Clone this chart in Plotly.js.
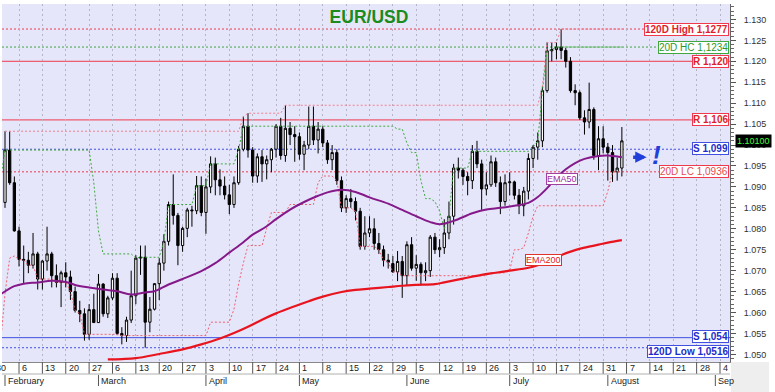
<!DOCTYPE html>
<html><head><meta charset="utf-8">
<script src="https://cdn.plot.ly/plotly-3.0.1.min.js"></script>
<style>html,body{margin:0;padding:0;background:#fff;}#chart{width:775px;height:392px;}</style>
</head><body><div id="chart"></div>
<script>
// ---------- DATA ----------
const preDates = ['2023-01-03','2023-01-04','2023-01-05','2023-01-06','2023-01-09','2023-01-10','2023-01-11','2023-01-12','2023-01-13',
 '2023-01-16','2023-01-17','2023-01-18','2023-01-19','2023-01-20','2023-01-23','2023-01-24','2023-01-25','2023-01-26','2023-01-27',
 '2023-01-30','2023-01-31'];
const preClose = [1.0545,1.0605,1.0520,1.0645,1.0730,1.0735,1.0760,1.0850,1.0830,
 1.0820,1.0790,1.0795,1.0830,1.0855,1.0870,1.0885,1.0915,1.0890,1.0870,1.0845,1.0865];

const dates = [
 '2023-02-01','2023-02-02','2023-02-03',
 '2023-02-06','2023-02-07','2023-02-08','2023-02-09','2023-02-10',
 '2023-02-13','2023-02-14','2023-02-15','2023-02-16','2023-02-17',
 '2023-02-20','2023-02-21','2023-02-22','2023-02-23','2023-02-24',
 '2023-02-27','2023-02-28','2023-03-01','2023-03-02','2023-03-03',
 '2023-03-06','2023-03-07','2023-03-08','2023-03-09','2023-03-10',
 '2023-03-13','2023-03-14','2023-03-15','2023-03-16','2023-03-17',
 '2023-03-20','2023-03-21','2023-03-22','2023-03-23','2023-03-24',
 '2023-03-27','2023-03-28','2023-03-29','2023-03-30','2023-03-31',
 '2023-04-03','2023-04-04','2023-04-05','2023-04-06','2023-04-07',
 '2023-04-10','2023-04-11','2023-04-12','2023-04-13','2023-04-14',
 '2023-04-17','2023-04-18','2023-04-19','2023-04-20','2023-04-21',
 '2023-04-24','2023-04-25','2023-04-26','2023-04-27','2023-04-28',
 '2023-05-01','2023-05-02','2023-05-03','2023-05-04','2023-05-05',
 '2023-05-08','2023-05-09','2023-05-10','2023-05-11','2023-05-12',
 '2023-05-15','2023-05-16','2023-05-17','2023-05-18','2023-05-19',
 '2023-05-22','2023-05-23','2023-05-24','2023-05-25','2023-05-26',
 '2023-05-29','2023-05-30','2023-05-31','2023-06-01','2023-06-02',
 '2023-06-05','2023-06-06','2023-06-07','2023-06-08','2023-06-09',
 '2023-06-12','2023-06-13','2023-06-14','2023-06-15','2023-06-16',
 '2023-06-19','2023-06-20','2023-06-21','2023-06-22','2023-06-23',
 '2023-06-26','2023-06-27','2023-06-28','2023-06-29','2023-06-30',
 '2023-07-03','2023-07-04','2023-07-05','2023-07-06','2023-07-07',
 '2023-07-10','2023-07-11','2023-07-12','2023-07-13','2023-07-14',
 '2023-07-17','2023-07-18','2023-07-19','2023-07-20','2023-07-21',
 '2023-07-24','2023-07-25','2023-07-26','2023-07-27','2023-07-28',
 '2023-07-31','2023-08-01','2023-08-02','2023-08-03','2023-08-04'];

const openP = [
 1.0863,1.0988,1.0910,
 1.0795,1.0727,1.0725,1.0713,1.0740,
 1.0680,1.0723,1.0740,1.0688,1.0672,
 1.0695,1.0685,1.0650,1.0605,1.0597,
 1.0548,1.0607,1.0576,1.0668,1.0597,
 1.0635,1.0682,1.0550,1.0545,1.0582,
 1.0640,1.0730,1.0732,1.0577,1.0608,
 1.0669,1.0718,1.0770,1.0858,1.0832,
 1.0760,1.0801,1.0845,1.0843,1.0903,
 1.0839,1.0900,1.0955,1.0917,1.0902,
 1.0881,1.0858,1.0910,1.0990,1.1045,
 1.0988,1.0926,1.0972,1.0955,1.0965,
 1.0990,1.1045,1.0975,1.1040,1.1025,
 1.1020,1.0978,1.1000,1.1045,1.1012,
 1.1038,1.1005,1.0965,1.0982,1.0915,
 1.0850,1.0872,1.0865,1.0842,1.0758,
 1.0790,1.0800,1.0765,1.0750,1.0725,
 1.0717,1.0697,1.0722,1.0688,1.0762,
 1.0706,1.0715,1.0695,1.0700,1.0780,
 1.0750,1.0755,1.0790,1.0830,1.0945,
 1.0940,1.0925,1.0915,1.0985,1.0955,
 1.0895,1.0905,1.0960,1.0910,1.0865,
 1.0910,1.0912,1.0880,1.0855,1.0890,
 1.0968,1.0995,1.1010,1.1130,1.1225,
 1.1228,1.1234,1.1226,1.1200,1.1130,
 1.1125,1.1065,1.1055,1.1085,1.0975,
 1.1015,1.0995,1.0982,1.0936,1.0945];

const highP = [
 1.1033,1.1033,1.0925,
 1.0805,1.0760,1.0745,1.0790,1.0745,
 1.0725,1.0805,1.0745,1.0715,1.0700,
 1.0720,1.0700,1.0662,1.0628,1.0610,
 1.0620,1.0645,1.0692,1.0670,1.0640,
 1.0694,1.0694,1.0565,1.0590,1.0700,
 1.0737,1.0760,1.0760,1.0637,1.0670,
 1.0730,1.0787,1.0865,1.0930,1.0838,
 1.0805,1.0850,1.0855,1.0926,1.0925,
 1.0920,1.0973,1.0970,1.0942,1.0925,
 1.0905,1.0925,1.0998,1.1068,1.1076,
 1.0995,1.0980,1.0988,1.0975,1.0993,
 1.1050,1.1065,1.1095,1.1055,1.1045,
 1.1030,1.1010,1.1092,1.1092,1.1055,
 1.1045,1.1012,1.1000,1.0990,1.0925,
 1.0880,1.0895,1.0875,1.0850,1.0830,
 1.0830,1.0825,1.0790,1.0760,1.0740,
 1.0735,1.0747,1.0735,1.0770,1.0780,
 1.0737,1.0720,1.0720,1.0785,1.0790,
 1.0775,1.0823,1.0865,1.0955,1.0970,
 1.0945,1.0935,1.1000,1.1010,1.0965,
 1.0935,1.0975,1.0970,1.0925,1.0930,
 1.0935,1.0915,1.0895,1.0900,1.0980,
 1.1000,1.1030,1.1140,1.1245,1.1245,
 1.1245,1.1277,1.1232,1.1210,1.1145,
 1.1130,1.1083,1.1149,1.1090,1.1045,
 1.1045,1.1005,1.1000,1.0970,1.1043];

const lowP = [
 1.0850,1.0905,1.0793,
 1.0710,1.0670,1.0694,1.0705,1.0655,
 1.0655,1.0700,1.0660,1.0660,1.0613,
 1.0660,1.0630,1.0600,1.0577,1.0533,
 1.0535,1.0575,1.0575,1.0590,1.0587,
 1.0630,1.0546,1.0524,1.0530,1.0575,
 1.0620,1.0690,1.0516,1.0553,1.0605,
 1.0630,1.0700,1.0760,1.0810,1.0713,
 1.0745,1.0780,1.0805,1.0835,1.0830,
 1.0788,1.0885,1.0880,1.0880,1.0870,
 1.0835,1.0850,1.0905,1.0985,1.0970,
 1.0910,1.0910,1.0912,1.0918,1.0935,
 1.0970,1.0965,1.0960,1.1000,1.0960,
 1.0965,1.0940,1.0990,1.1000,1.0980,
 1.0995,1.0955,1.0940,1.0905,1.0840,
 1.0838,1.0850,1.0820,1.0750,1.0750,
 1.0780,1.0750,1.0740,1.0710,1.0705,
 1.0695,1.0675,1.0635,1.0665,1.0700,
 1.0676,1.0665,1.0675,1.0685,1.0740,
 1.0732,1.0740,1.0775,1.0810,1.0920,
 1.0905,1.0880,1.0895,1.0945,1.0845,
 1.0880,1.0900,1.0900,1.0835,1.0855,
 1.0880,1.0870,1.0835,1.0830,1.0870,
 1.0945,1.0965,1.0995,1.1125,1.1200,
 1.1205,1.1205,1.1185,1.1125,1.1095,
 1.1060,1.1025,1.1040,1.0965,1.0940,
 1.0980,1.0915,1.0912,1.0915,1.0925];

const closeP = [
 1.0988,1.0910,1.0795,
 1.0727,1.0725,1.0713,1.0740,1.0680,
 1.0723,1.0740,1.0688,1.0672,1.0695,
 1.0685,1.0650,1.0605,1.0597,1.0548,
 1.0607,1.0576,1.0668,1.0597,1.0635,
 1.0682,1.0550,1.0545,1.0582,1.0640,
 1.0730,1.0732,1.0577,1.0608,1.0669,
 1.0718,1.0770,1.0858,1.0832,1.0760,
 1.0801,1.0845,1.0843,1.0903,1.0839,
 1.0900,1.0955,1.0917,1.0902,1.0881,
 1.0858,1.0910,1.0990,1.1045,1.0988,
 1.0926,1.0972,1.0955,1.0965,1.0990,
 1.1045,1.0975,1.1040,1.1025,1.1020,
 1.0978,1.1000,1.1045,1.1012,1.1038,
 1.1005,1.0965,1.0982,1.0915,1.0850,
 1.0872,1.0865,1.0842,1.0758,1.0790,
 1.0800,1.0765,1.0750,1.0725,1.0720,
 1.0697,1.0722,1.0688,1.0762,1.0706,
 1.0715,1.0695,1.0700,1.0780,1.0750,
 1.0755,1.0790,1.0830,1.0945,1.0940,
 1.0925,1.0915,1.0985,1.0955,1.0895,
 1.0905,1.0960,1.0910,1.0865,1.0910,
 1.0912,1.0880,1.0855,1.0890,1.0968,
 1.0995,1.1010,1.1130,1.1225,1.1228,
 1.1234,1.1226,1.1200,1.1130,1.1125,
 1.1065,1.1055,1.1085,1.0975,1.1015,
 1.0995,1.0982,1.0936,1.0945,1.1010];

const ema50Dates = ['2023-01-31','2023-02-03','2023-02-07','2023-02-10','2023-02-15','2023-02-20','2023-02-22','2023-02-27',
 '2023-03-02','2023-03-07','2023-03-10','2023-03-15','2023-03-17','2023-03-22','2023-03-27','2023-03-31','2023-04-05',
 '2023-04-10','2023-04-13','2023-04-17','2023-04-20','2023-04-24','2023-04-27','2023-05-02','2023-05-05','2023-05-09',
 '2023-05-12','2023-05-17','2023-05-22','2023-05-26','2023-05-31','2023-06-05','2023-06-08','2023-06-12','2023-06-15',
 '2023-06-21','2023-06-26','2023-06-29','2023-07-04','2023-07-07','2023-07-11','2023-07-13','2023-07-17','2023-07-19',
 '2023-07-21','2023-07-25','2023-07-28','2023-08-01','2023-08-04'];
const ema50 = [1.0643,1.0663,1.0669,1.0672,1.0676,1.0673,1.0666,1.0660,
 1.0655,1.0651,1.0643,1.0648,1.0651,1.0667,1.0680,1.0699,1.0718,
 1.0743,1.0768,1.0786,1.0806,1.0823,1.0846,1.0864,1.0879,1.0887,
 1.0893,1.0888,1.0875,1.0860,1.0845,1.0830,1.0816,1.0811,1.0819,
 1.0837,1.0846,1.0850,1.0855,1.0862,1.0876,1.0897,1.0922,1.0942,
 1.0957,1.0967,1.0974,1.0975,1.0971];

const ema200Dates = ['2023-03-03','2023-03-08','2023-03-13','2023-03-20','2023-03-27','2023-03-31','2023-04-06','2023-04-11',
 '2023-04-14','2023-04-19','2023-04-24','2023-04-28','2023-05-03','2023-05-08','2023-05-12','2023-05-17','2023-05-22',
 '2023-05-26','2023-05-31','2023-06-05','2023-06-09','2023-06-13','2023-06-19','2023-06-23','2023-06-28','2023-07-03',
 '2023-07-07','2023-07-11','2023-07-14','2023-07-18','2023-07-21','2023-07-25','2023-07-28','2023-08-01','2023-08-04'];
const ema200 = [1.0488,1.0489,1.0491,1.0501,1.0512,1.0524,1.0538,1.0551,
 1.0566,1.0583,1.0598,1.0615,1.0627,1.0638,1.0649,1.0654,1.0657,
 1.0661,1.0664,1.0666,1.0668,1.0672,1.0681,1.0690,1.0695,1.0700,
 1.0707,1.0713,1.0726,1.0737,1.0749,1.0755,1.0762,1.0767,1.0773];

const levelValues = [1.1277, 1.1234, 1.120, 1.106, 1.099, 1.0936, 1.054, 1.0516];
const levelLabels = ['120D High 1,1277','20D HC 1,1234','R 1,120','R 1,106','S 1,099','20D LC 1,0936','S 1,054','120D Low 1,0516'];

const tickDates = ['2023-01-30','2023-02-06','2023-02-13','2023-02-20','2023-02-27','2023-03-06','2023-03-13','2023-03-20','2023-03-27',
 '2023-04-03','2023-04-10','2023-04-17','2023-04-24','2023-05-01','2023-05-08','2023-05-15','2023-05-22','2023-05-29',
 '2023-06-05','2023-06-12','2023-06-19','2023-06-26','2023-07-03','2023-07-10','2023-07-17','2023-07-24','2023-07-31',
 '2023-08-07','2023-08-14','2023-08-21','2023-08-28','2023-09-04'];
const tickLabels = ['30','6','13','20','27','6','13','20','27','3','10','17','24','1','8','15','22','29',
 '5','12','19','26','3','10','17','24','31','7','14','21','28','4'];
const monthStarts = ['2023-02-01','2023-03-01','2023-04-03','2023-05-01','2023-06-01','2023-07-03','2023-08-01','2023-09-01'];
const monthNames = ['February','March','April','May','June','July','August','Sep'];

const hcWindow = 19;

// ---------- STYLES ----------
const FONT = 'Arial, "Liberation Sans", sans-serif';
const RED_L = '#f0394d', RED_T = '#e01e2c', GRN_L = '#3fa83f', GRN_T = '#2b9a2b', BLU_L = '#4150e0', BLU_T = '#1c2ccc';
const levelStyle = [
 {c:RED_L, dash:'2px,2px', tc:RED_T, b:true,  ys:0},
 {c:GRN_L, dash:'2px,2px', tc:GRN_T, b:false, ys:0},
 {c:RED_L, dash:'solid',   tc:RED_T, b:true,  ys:0},
 {c:RED_L, dash:'solid',   tc:RED_T, b:true,  ys:0},
 {c:BLU_L, dash:'2px,2px', tc:BLU_T, b:true,  ys:1},
 {c:RED_L, dash:'2px,2px', tc:'#e5484f', b:false, ys:0},
 {c:BLU_L, dash:'solid',   tc:BLU_T, b:true,  ys:1},
 {c:BLU_L, dash:'2px,2px', tc:BLU_T, b:true,  ys:-4}
];

// ---------- HELPERS ----------
const T0 = Date.UTC(2023,0,30);
function tIdx(s){const p=s.split('-').map(Number);const n=Math.round((Date.UTC(p[0],p[1]-1,p[2])-T0)/864e5);
 return Math.floor(n/7)*5+(((n%7)+7)%7);}
const W=775,H=392,M={l:2,r:45,t:4,b:30};
const plotH=H-M.t-M.b, plotW=W-M.l-M.r;
const py = Y => (H-M.b-Y)/plotH;
const xRange=[1.357,157.14], yRange=[1.04819,1.13368];

const xs = dates.map(tIdx);

// rolling highest / lowest close and running high
const allIdx = preDates.map(tIdx).concat(xs);
const allClose = preClose.concat(closeP);
const stepX=[], hc=[], lc=[];
for(let p=0;p<allIdx.length;p++){
 if(allIdx[p]<1) continue;
 const w=allClose.slice(Math.max(0,p-hcWindow+1),p+1);
 stepX.push(allIdx[p]); hc.push(Math.max(...w)); lc.push(Math.min(...w));
}
const runHigh=[]; let mh=-Infinity;
for(const h of highP){mh=Math.max(mh,h);runHigh.push(mh);}

// ---------- TRACES ----------
const traces = [
 {type:'scatter',mode:'lines',x:xs,y:runHigh,line:{color:'#ee8090',width:1,dash:'2px,2px'},hoverinfo:'skip'},
 {type:'scatter',mode:'lines',x:stepX,y:hc,line:{color:GRN_L,width:1,dash:'2px,2px'},hoverinfo:'skip'},
 {type:'scatter',mode:'lines',x:stepX,y:lc,line:{color:'#ee6070',width:1,dash:'2px,2px'},hoverinfo:'skip'},
 {type:'candlestick',x:xs,open:openP,high:highP,low:lowP,close:closeP,whiskerwidth:0,
  increasing:{line:{color:'#000',width:1},fillcolor:'#ffffff'},
  decreasing:{line:{color:'#000',width:1},fillcolor:'#000000'},hoverinfo:'skip'},
 {type:'scatter',mode:'lines',x:ema200Dates.map(tIdx),y:ema200,line:{color:'#e8141e',width:2.2,shape:'spline'},hoverinfo:'skip'},
 {type:'scatter',mode:'lines',x:ema50Dates.map(tIdx),y:ema50,line:{color:'#85198a',width:2,shape:'spline'},hoverinfo:'skip'}
];

// ---------- SHAPES / ANNOTATIONS ----------
const shapes=[], ann=[];
levelValues.forEach((v,i)=>{
 const s=levelStyle[i];
 shapes.push({type:'line',xref:'paper',x0:0,x1:1,yref:'y',y0:v,y1:v,layer:'between',line:{color:s.c,width:1,dash:s.dash}});
 ann.push({xref:'paper',x:1,xanchor:'right',xshift:-1,yref:'y',y:v,yanchor:'middle',yshift:s.ys,showarrow:false,
  text:s.b?'<b>'+levelLabels[i]+'</b>':levelLabels[i],font:{family:FONT,size:10,color:s.tc},
  bgcolor:'#ffffff',bordercolor:s.c,borderwidth:1,borderpad:0});
});
// date rows
const tickIdx = tickDates.map(tIdx);
tickIdx.forEach((t,i)=>{
 shapes.push({type:'line',xref:'x',x0:t,x1:t,yref:'paper',y0:0,y1:py(374),line:{color:'#555',width:1}});
 const inR = t>=xRange[0] && t<=xRange[1];
 ann.push({xref:inR?'x':'paper',x:inR?t:(t-xRange[0])/(xRange[1]-xRange[0]),xanchor:'left',xshift:inR?1:-2,
  yref:'paper',y:py(368),yanchor:'middle',showarrow:false,text:tickLabels[i],font:{family:FONT,size:9,color:'#222'}});
});
shapes.push({type:'line',xref:'paper',x0:0,x1:1,yref:'paper',y0:py(374),y1:py(374),line:{color:'#b0b0b0',width:1}});
monthStarts.map(tIdx).forEach((t,i)=>{
 shapes.push({type:'line',xref:'x',x0:t,x1:t,yref:'paper',y0:py(375),y1:py(386),line:{color:'#555',width:1}});
 ann.push({xref:'x',x:t,xanchor:'left',xshift:1,yref:'paper',y:py(380.5),yanchor:'middle',showarrow:false,
  text:monthNames[i],font:{family:FONT,size:9,color:'#222'}});
});
shapes.push({type:'rect',xref:'paper',x0:1+1/plotW,x1:1+39/plotW,yref:'paper',y0:py(392),y1:0,fillcolor:'#eeeeee',line:{width:0}});

// indicator labels
ann.push({xref:'x',x:121.2,yref:'y',y:1.0920,showarrow:false,text:'EMA50',font:{family:FONT,size:9,color:'#9a2a9a'},
 bgcolor:'#fff',bordercolor:'#a040a0',borderwidth:1,borderpad:0});
ann.push({xref:'x',x:117.3,yref:'y',y:1.0725,showarrow:false,text:'EMA200',font:{family:FONT,size:9,color:'#e02020'},
 bgcolor:'#fff',bordercolor:'#e03030',borderwidth:1,borderpad:0});
// arrow and exclamation
ann.push({xref:'x',x:139.3,yref:'y',y:1.0971,ax:-15,ay:0,showarrow:true,arrowhead:2,arrowsize:0.65,arrowwidth:3.5,arrowcolor:'#1f3fd8',text:''});
ann.push({xref:'x',x:141.4,yref:'y',y:1.0976,showarrow:false,text:'<b><i>!</i></b>',font:{family:FONT,size:26,color:'#1f3fd8'}});
// last price
const lastClose = closeP[closeP.length-1];
ann.push({xref:'paper',x:1,xanchor:'left',xshift:5,yref:'y',y:lastClose,yanchor:'middle',showarrow:false,
 text:lastClose.toFixed(5),font:{family:FONT,size:9,color:'#3cff3c'},bgcolor:'#000',borderpad:1});

const layout = {
 width:W,height:H,margin:{l:M.l,r:M.r,t:M.t,b:M.b,pad:0},autosize:false,
 paper_bgcolor:'#ffffff',plot_bgcolor:'#e6e6fa',showlegend:false,hovermode:false,
 title:{text:'<b>EUR/USD</b>',font:{family:FONT,size:17.5,color:'#1b8c1b'},xref:'container',x:369/W,xanchor:'center',
  yref:'container',y:1-16.5/H,yanchor:'middle'},
 xaxis:{type:'linear',range:xRange,tickmode:'array',tickvals:tickIdx,showticklabels:false,ticks:'',
  showgrid:true,gridcolor:'#b4b4c4',griddash:'2px,3px',gridwidth:1,zeroline:false,showline:true,linecolor:'#888',linewidth:1,
  rangeslider:{visible:false},fixedrange:true},
 yaxis:{side:'right',range:yRange,tick0:1.05,dtick:0.005,tickformat:'.3f',ticks:'outside',ticklen:5,tickcolor:'#555',
  ticklabelstandoff:6,minor:{ticks:'outside',ticklen:2.5,dtick:0.001,tickcolor:'#666',showgrid:false},
  showgrid:false,zeroline:false,showline:true,linecolor:'#666',linewidth:1,tickfont:{family:FONT,size:9,color:'#333'},fixedrange:true},
 shapes:shapes,annotations:ann
};
Plotly.newPlot('chart',traces,layout,{staticPlot:true,displayModeBar:false});
</script></body></html>
